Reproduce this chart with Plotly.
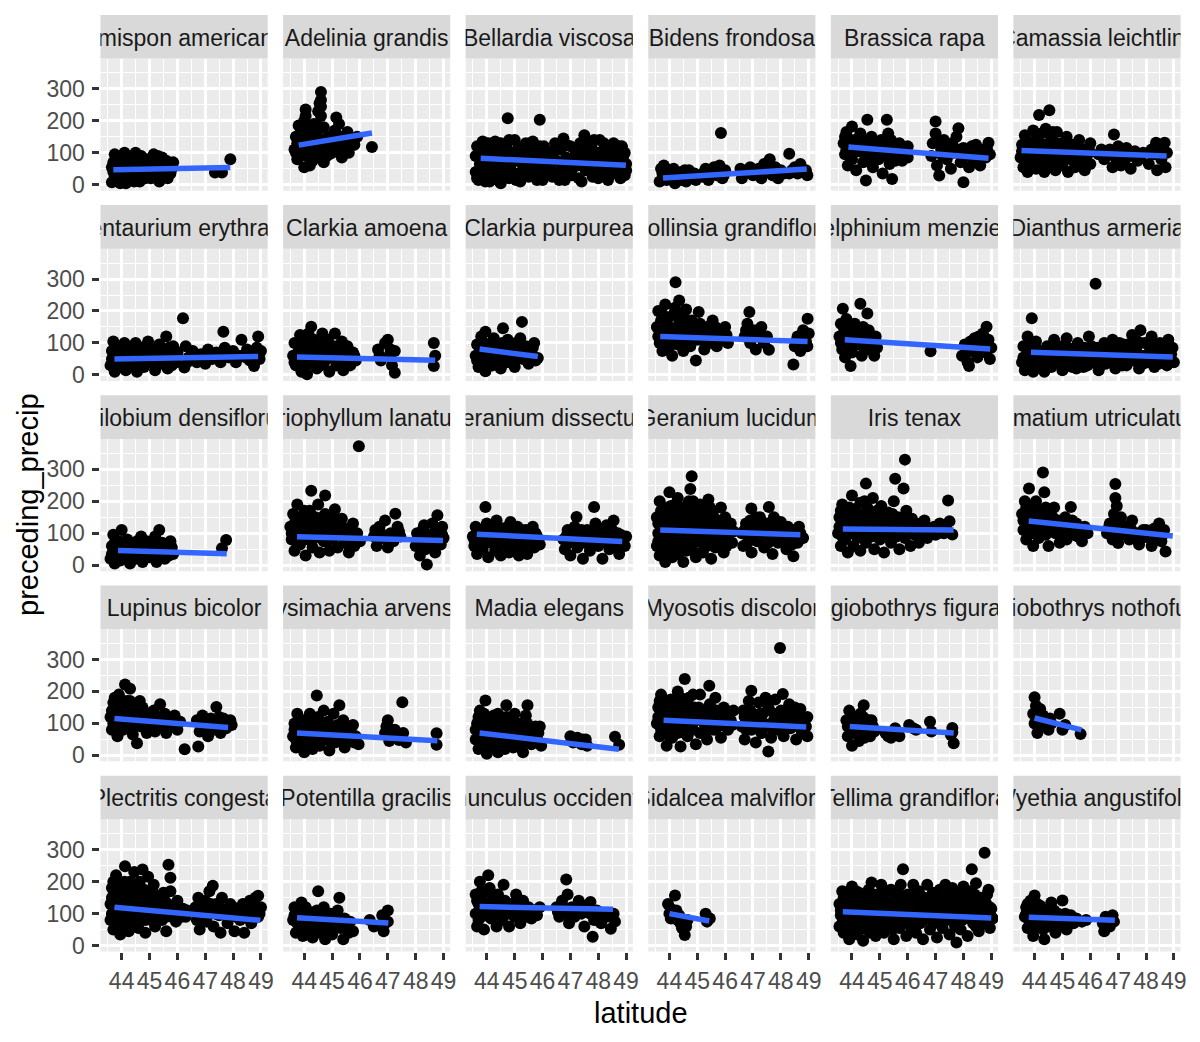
import plotly.graph_objects as go

SPECIES = [
    "Acmispon americanus", "Adelinia grandis", "Bellardia viscosa", "Bidens frondosa",
    "Brassica rapa", "Camassia leichtlinii", "Centaurium erythraea", "Clarkia amoena",
    "Clarkia purpurea", "Collinsia grandiflora", "Delphinium menziesii", "Dianthus armeria",
    "Epilobium densiflorum", "Eriophyllum lanatum", "Geranium dissectum", "Geranium lucidum",
    "Iris tenax", "Lomatium utriculatum", "Lupinus bicolor", "Lysimachia arvensis",
    "Madia elegans", "Myosotis discolor", "Plagiobothrys figuratus", "Plagiobothrys nothofulvus",
    "Plectritis congesta", "Potentilla gracilis", "Ranunculus occidentalis", "Sidalcea malviflora",
    "Tellima grandiflora", "Wyethia angustifolia",
]

X_TICKS = [44, 45, 46, 47, 48, 49]
Y_TICKS = [0, 100, 200, 300]

# (latitude, preceding_precip) pairs
P01 = [(43.65,8),(43.7,40),(43.7,70),(43.75,95),(43.85,20),(43.85,55),(43.9,85),(43.95,5),(44.0,35),(44.0,65),(44.1,100),(44.1,20),(44.15,50),(44.2,80),
       (44.35,15),(44.4,50),(44.4,85),(44.5,100),(44.55,30),(44.6,65),(44.65,10),(44.7,90),(44.75,45),(44.8,75),(44.85,20),(44.9,55),(44.95,35),
       (45.05,20),(45.1,60),(45.15,95),(45.2,40),(45.25,80),(45.35,10),(45.4,55),(45.45,85),(45.5,30),(45.55,70),(45.6,45),(45.7,60),(45.8,50),(45.85,70),(45.65,20),
       (47.35,38),(47.6,38),(47.9,80),
       (43.75,25),(43.8,75),(43.95,50),(44.05,85),(44.1,60),(43.65,55),(43.9,30),(44.45,35),(44.5,70),(44.6,45),(44.7,20),(44.8,55),(44.9,80),(44.45,10),
       (45.1,35),(45.2,70),(45.3,30),(45.35,60),(45.5,50),(45.6,75),(45.75,35),(45.3,90),(44.15,5),(44.55,90),(45.0,75)]
P02 = [(43.65,110),(43.7,150),(43.75,80),(43.8,185),(43.85,120),(43.9,95),(43.95,160),(44.0,55),(44.0,200),(44.05,235),(44.05,130),(44.1,90),(44.15,170),(44.2,110),
       (44.25,145),(44.3,75),(44.35,190),(44.4,120),(44.45,160),(44.5,95),(44.55,255),(44.6,290),(44.6,215),(44.65,140),(44.7,180),(44.7,70),(44.8,110),(44.85,150),
       (44.9,95),(45.0,130),(45.1,170),(45.15,210),(45.2,115),(45.3,150),(45.35,85),(45.45,125),(45.55,165),(45.6,100),(45.7,140),(45.8,125),(45.9,150),(46.43,118),
       (43.75,130),(43.85,160),(43.9,140),(44.0,110),(44.1,150),(44.15,130),(44.25,120),(44.3,170),(44.4,140),(44.45,100),(44.5,130),(44.55,180),(44.65,110),
       (44.75,140),(44.8,90),(44.9,130),(45.0,100),(45.05,150),(45.2,140),(45.25,190),(45.4,110),(45.5,150),(45.65,120),(43.7,100),(44.6,245),(44.5,230),
       (44.6,265),(44.0,175),(44.05,215),(44.3,90),(44.2,60)]
P03 = [(43.6,40),(43.6,90),(43.65,120),(43.7,15),(43.75,65),(43.85,110),(43.9,35),(43.95,80),(44.05,130),(44.1,10),(44.1,55),(44.2,95),(44.3,30),(44.3,135),(44.4,70),
       (44.45,110),(44.5,5),(44.55,45),(44.65,90),(44.7,125),(44.75,208),(44.8,20),(44.85,60),(44.9,100),(45.0,140),(45.0,35),(45.1,75),(45.15,115),(45.2,10),(45.3,50),
       (45.35,95),(45.4,130),(45.5,25),(45.55,70),(45.6,110),(45.7,45),(45.75,90),(45.8,15),(45.9,203),(45.9,120),(45.95,60),(46.05,85),(46.1,30),
       (46.25,60),(46.3,100),(46.35,25),(46.45,130),(46.5,75),(46.6,40),(46.65,110),(46.75,145),(46.8,15),(46.85,85),(46.9,55),(47.0,120),(47.05,30),(47.15,90),
       (47.25,60),(47.35,130),(47.4,10),(47.45,100),(47.5,155),(47.55,45),(47.65,80),(47.75,120),(47.8,25),(47.9,65),(48.0,100),(48.05,140),(48.15,40),(48.2,85),
       (48.3,115),(48.35,15),(48.45,60),(48.5,100),(48.6,35),(48.65,80),(48.75,120),(48.8,55),(48.9,90),(48.95,30),(49.0,65),
       (43.65,20),(43.7,100),(43.8,55),(43.85,135),(43.95,10),(44.0,100),(44.1,75),(44.15,120),(44.25,55),(44.35,90),(44.4,15),(44.5,130),(44.6,65),(44.65,30),
       (44.75,100),(44.8,140),(44.95,80),(45.05,15),(45.1,110),(45.25,70),(45.3,30),(45.45,105),(45.5,55),(45.65,135),(45.7,80),(45.85,40),(45.9,95),(46.0,15),
       (46.05,120),(46.1,55),(46.3,45),(46.4,80),(46.55,110),(46.6,15),(46.7,60),(46.85,125),(46.95,30),(47.0,80),(47.1,55),(47.2,115),(47.3,20),(47.4,75),
       (47.55,125),(47.6,65),(47.7,100),(47.75,40),(47.85,140),(47.95,85),(48.0,20),(48.1,60),(48.2,130),(48.25,100),(48.4,80),(48.5,40),(48.55,130),(48.7,95),
       (48.8,20),(48.85,120),(48.95,100),(49.0,45)]
P04 = [(43.65,10),(43.75,35),(43.8,60),(43.9,15),(44.0,45),(44.1,20),(44.2,5),(44.3,40),(44.4,15),(44.5,30),(44.6,10),(44.7,45),(44.8,20),(44.9,35),(45.2,25),
       (45.3,50),(45.4,15),(45.5,40),(45.6,55),(45.7,30),(45.8,60),(45.85,162),(45.9,20),(46.0,45),(46.55,50),(46.6,20),(46.7,40),(46.9,55),(47.0,30),(47.2,50),
       (47.3,20),(47.4,65),(47.5,40),(47.6,80),(47.7,30),(47.8,55),(47.9,20),(48.0,45),(48.3,97),(48.3,35),(48.5,55),(48.7,65),(48.8,40),(48.95,30),
       (43.7,50),(43.85,30),(44.05,30),(44.15,50),(44.35,25),(44.55,45),(44.75,30),(44.95,15),(45.25,40),(45.45,30),(45.65,45),(45.95,30),(46.65,35),(46.8,45),
       (47.1,45),(47.35,40),(47.55,60),(47.85,40),(48.1,35),(48.4,45),(48.6,35),(48.9,45)]
P05 = [(43.7,130),(43.75,95),(43.8,165),(43.85,60),(43.9,115),(44.0,182),(44.0,80),(44.1,140),(44.15,45),(44.25,105),(44.3,160),(44.4,70),(44.45,125),(44.5,13),
       (44.55,203),(44.6,95),(44.7,150),(44.75,55),(44.85,115),(44.95,80),(45.05,140),(45.1,35),(45.2,100),(45.25,203),(45.3,160),(45.35,65),(45.44,18),(45.5,120),
       (45.6,90),(45.7,130),(45.8,75),(45.9,110),(46.0,85),
       (46.85,90),(46.9,130),(47.0,198),(47.0,160),(47.05,60),(47.13,29),(47.2,110),(47.3,140),(47.4,80),(47.5,120),(47.55,50),(47.65,100),(47.75,150),(47.82,177),
       (47.9,70),(48.0,8),(48.0,115),(48.1,90),(48.2,55),(48.3,120),(48.4,75),(48.5,100),(48.6,60),(48.7,110),(48.8,85),(48.9,131),(48.95,95),
       (43.75,150),(43.8,110),(43.95,140),(44.05,105),(44.2,125),(44.35,140),(44.4,100),(44.6,125),(44.65,75),(44.8,135),(44.9,100),(45.0,115),(45.15,125),
       (45.25,85),(45.4,140),(45.45,100),(45.55,75),(45.65,110),(45.85,95),(46.0,120),(47.1,135),(47.25,90),(47.45,100),(47.6,130),(47.9,110),(48.15,110),
       (48.25,90),(48.45,125),(48.65,90),(48.85,110)]
P06 = [(43.5,85),(43.55,125),(43.6,55),(43.65,155),(43.7,100),(43.75,40),(43.8,135),(43.85,75),(43.95,170),(44.0,110),(44.05,50),(44.1,145),(44.16,218),(44.2,85),
       (44.3,125),(44.35,40),(44.4,175),(44.45,100),(44.53,233),(44.55,65),(44.6,145),(44.7,115),(44.75,45),(44.8,165),(44.85,85),(44.95,130),(45.0,60),(45.1,105),
       (45.15,150),(45.2,40),(45.3,80),(45.35,125),(45.45,55),(45.5,100),(45.6,140),(45.65,70),(45.75,110),(45.8,45),(45.9,95),(46.0,130),(46.0,65),
       (46.3,95),(46.5,80),(46.7,110),(46.8,55),(46.85,157),(46.9,85),(47.0,120),(47.1,60),(47.2,95),(47.3,115),(47.45,50),(47.5,90),(47.7,75),(47.9,100),
       (48.1,65),(48.3,95),(48.36,131),(48.4,45),(48.55,80),(48.67,131),(48.7,55),(48.75,100),
       (43.55,105),(43.65,70),(43.7,120),(43.8,95),(43.9,115),(43.95,60),(44.05,130),(44.15,95),(44.25,160),(44.3,70),(44.4,125),(44.5,85),(44.6,100),(44.65,165),
       (44.75,130),(44.85,105),(44.9,60),(45.05,130),(45.15,85),(45.25,115),(45.4,95),(45.55,120),(45.7,90),(45.85,75),(45.95,110),(46.4,110),(46.6,95),
       (46.95,105),(47.25,80),(47.6,105),(47.8,85),(48.2,110),(48.5,100),(48.6,115)]
P07 = [(43.6,30),(43.65,75),(43.7,105),(43.75,10),(43.8,50),(43.9,85),(43.95,25),(44.0,60),(44.1,100),(44.15,15),(44.2,45),(44.3,80),(44.35,30),(44.45,65),
       (44.5,100),(44.55,10),(44.65,45),(44.7,85),(44.8,25),(44.9,65),(44.95,105),(45.05,40),(45.1,80),(45.2,15),(45.25,55),(45.35,95),(45.45,35),(45.5,70),
       (45.6,120),(45.65,20),(45.75,55),(45.85,90),(45.95,40),(46.0,70),
       (46.2,177),(46.25,23),(46.3,90),(46.4,55),(46.55,75),(46.7,40),(46.85,65),(47.0,35),(47.1,80),(47.25,50),(47.4,70),(47.55,40),(47.65,135),(47.7,85),
       (47.85,55),(48.0,75),(48.1,40),(48.3,110),(48.35,60),(48.5,80),(48.6,45),(48.75,28),(48.8,70),(48.9,120),(48.95,50),
       (43.65,50),(43.75,85),(43.85,35),(43.9,60),(44.05,40),(44.1,80),(44.25,60),(44.4,45),(44.6,75),(44.75,60),(44.85,90),(45.0,55),(45.15,70),(45.3,40),
       (45.4,75),(45.55,50),(45.7,85),(45.8,30),(45.9,60),(46.35,40),(46.5,60),(46.65,55),(46.95,55),(47.2,65),(47.5,60),(47.8,65),(48.2,60),(48.45,55),
       (48.7,55),(48.85,85),(49.0,75)]
P08 = [(43.6,60),(43.65,100),(43.7,30),(43.8,75),(43.85,125),(43.9,10),(43.95,50),(44.05,90),(44.1,2),(44.15,130),(44.2,35),(44.25,151),(44.3,70),(44.35,110),
       (44.45,20),(44.5,55),(44.6,95),(44.65,130),(44.7,35),(44.8,75),(44.85,110),(44.9,10),(45.0,55),(45.05,90),(45.1,130),(45.15,30),(45.25,70),(45.35,105),
       (45.4,15),(45.5,50),(45.55,90),(45.65,30),(45.75,70),(45.85,45),
       (46.65,80),(46.75,45),(46.9,100),(47.0,110),(47.05,60),(47.15,30),(47.25,7),(47.25,75),(48.65,100),(48.65,28),(48.7,60),
       (43.65,40),(43.75,55),(43.8,100),(43.95,75),(44.05,30),(44.1,110),(44.25,60),(44.3,95),(44.4,45),(44.55,75),(44.6,30),(44.75,100),(44.8,50),(44.95,75),
       (45.1,60),(45.2,90),(45.3,45),(45.45,75),(45.6,60),(45.7,45),(45.8,60),(46.7,60),(47.1,80)]
P09 = [(43.6,60),(43.65,95),(43.7,25),(43.8,120),(43.85,70),(43.95,135),(43.95,12),(44.0,45),(44.1,90),(44.2,30),(44.25,115),(44.35,60),(44.45,95),(44.5,20),
       (44.58,146),(44.6,75),(44.7,40),(44.75,110),(44.85,60),(44.95,90),(45.0,25),(45.1,75),(45.2,115),(45.26,166),(45.3,50),(45.4,90),(45.5,35),(45.6,70),
       (45.7,100),(45.75,45),(45.83,53),
       (43.65,45),(43.75,80),(43.9,100),(44.05,70),(44.15,55),(44.3,80),(44.4,40),(44.55,100),(44.65,55),(44.8,80),(44.9,40),(45.05,100),(45.15,55),(45.35,70),
       (45.55,55),(45.65,85),(43.85,35)]
P10 = [(43.55,150),(43.6,200),(43.65,100),(43.7,170),(43.75,75),(43.8,130),(43.85,220),(43.9,90),(43.95,155),(44.05,120),(44.1,60),(44.15,190),(44.22,290),
       (44.25,140),(44.3,95),(44.35,233),(44.4,170),(44.45,115),(44.5,75),(44.55,150),(44.6,205),(44.7,125),(44.75,90),(44.8,170),(44.9,140),(44.95,45),(45.0,110),
       (45.05,197),(45.1,160),(45.2,130),(45.25,80),(45.35,150),(45.45,110),(45.55,170),(45.6,130),(45.7,90),(45.8,140),(45.9,110),(46.0,150),(46.1,100),
       (46.7,120),(46.8,160),(46.87,197),(46.9,100),(47.0,140),(47.1,80),(47.2,120),(47.3,150),(47.4,100),(47.5,120),(47.57,79),
       (48.45,33),(48.5,90),(48.6,120),(48.7,75),(48.8,140),(48.9,105),(48.96,176),(49.0,130),
       (43.6,120),(43.7,140),(43.75,190),(43.85,110),(43.95,180),(44.0,90),(44.1,145),(44.2,210),(44.2,115),(44.35,170),(44.4,130),(44.5,190),(44.6,100),
       (44.65,155),(44.75,130),(44.85,115),(44.9,160),(45.0,135),(45.15,110),(45.3,120),(45.4,140),(45.5,100),(45.65,150),(45.85,120),(46.05,125),(46.75,140),
       (46.95,120),(47.15,140),(47.35,110),(48.55,105),(48.75,110),(48.95,90)]
P11 = [(43.55,120),(43.6,160),(43.65,80),(43.67,207),(43.7,130),(43.75,55),(43.8,175),(43.85,100),(43.9,145),(43.95,28),(44.0,70),(44.05,120),(44.1,160),
       (44.2,95),(44.3,223),(44.3,135),(44.35,60),(44.45,110),(44.55,192),(44.55,80),(44.6,140),(44.7,100),(44.8,60),(44.85,120),(44.9,85),(46.82,74),
       (47.95,60),(48.05,95),(48.15,40),(48.2,28),(48.3,75),(48.4,115),(48.5,55),(48.6,90),(48.7,130),(48.8,70),(48.83,151),(48.9,110),(48.95,50),(49.0,85),
       (43.6,100),(43.7,150),(43.75,110),(43.85,140),(43.9,120),(44.0,95),(44.05,145),(44.15,125),(44.25,110),(44.4,90),(44.4,150),(44.5,120),(44.65,120),
       (44.75,80),(48.1,70),(48.25,105),(48.45,80),(48.55,120),(48.75,100),(48.85,90)]
P12 = [(43.55,40),(43.6,90),(43.65,15),(43.7,60),(43.75,120),(43.8,35),(43.85,80),(43.9,177),(43.95,10),(44.0,55),(44.05,105),(44.1,30),(44.2,75),(44.3,45),
       (44.35,10),(44.45,90),(44.5,60),(44.6,25),(44.7,110),(44.75,70),(44.85,40),(44.9,90),(45.0,15),(45.05,60),(45.15,115),(45.25,35),(45.3,80),(45.4,55),
       (45.5,20),(45.55,100),(45.6,65),(45.7,40),(45.8,85),(45.9,30),(45.95,120),(46.0,60),(46.1,40),(46.19,285),(46.25,85),(46.3,15),(46.4,60),(46.5,100),
       (46.55,35),(46.65,70),(46.75,45),(46.8,110),(46.9,20),(47.0,75),(47.1,50),(47.2,95),(47.3,30),(47.4,70),(47.5,125),(47.55,45),(47.65,85),(47.75,20),
       (47.8,140),(47.85,60),(47.95,100),(48.05,40),(48.15,80),(48.2,120),(48.3,25),(48.4,60),(48.5,100),(48.55,45),(48.65,75),(48.75,30),(48.8,110),
       (48.85,55),(48.95,85),(49.0,40),
       (43.6,55),(43.7,30),(43.8,100),(43.9,45),(44.0,80),(44.15,55),(44.25,20),(44.4,65),(44.55,45),(44.65,80),(44.8,55),(44.95,70),(45.1,40),(45.2,85),
       (45.35,25),(45.45,70),(45.65,50),(45.75,25),(45.85,60),(46.05,90),(46.2,50),(46.35,70),(46.45,35),(46.6,55),(46.7,85),(46.85,55),(46.95,40),(47.05,100),
       (47.15,30),(47.25,60),(47.35,95),(47.45,45),(47.6,65),(47.7,105),(47.9,35),(48.0,60),(48.1,100),(48.25,55),(48.35,85),(48.45,35),(48.6,60),(48.7,95),
       (48.9,65)]
P13 = [(43.6,20),(43.65,60),(43.7,95),(43.75,5),(43.8,40),(43.9,75),(43.95,15),(44.0,110),(44.05,50),(44.15,25),(44.2,80),(44.3,5),(44.35,45),(44.45,70),
       (44.5,20),(44.6,55),(44.7,90),(44.75,10),(44.85,40),(44.9,75),(45.0,25),(45.1,60),(45.2,90),(45.25,10),(45.35,110),(45.35,40),(45.45,70),(45.55,20),
       (45.65,50),(45.75,75),(45.85,35),(47.6,53),(47.75,79),
       (43.65,35),(43.75,70),(43.85,20),(43.9,55),(44.1,35),(44.25,60),(44.4,30),(44.55,75),(44.65,35),(44.8,60),(44.95,50),(45.05,40),(45.15,75),(45.3,55),
       (45.4,25),(45.5,50),(45.7,30),(45.8,55)]
P14 = [(43.5,120),(43.55,80),(43.6,160),(43.65,45),(43.7,100),(43.75,190),(43.8,135),(43.85,65),(43.95,105),(44.0,170),(44.05,30),(44.1,140),(44.15,80),
       (44.25,233),(44.25,115),(44.3,55),(44.4,150),(44.45,95),(44.5,190),(44.55,40),(44.6,125),(44.7,75),(44.75,218),(44.75,160),(44.85,105),(44.9,45),
       (44.95,140),(45.05,85),(45.1,175),(45.15,120),(45.2,55),(45.3,100),(45.35,145),(45.45,70),(45.5,115),(45.6,40),(45.65,90),(45.75,130),(45.8,60),
       (45.9,100),(45.96,372),(46.0,75),
       (46.5,90),(46.6,60),(46.7,120),(46.8,85),(46.9,140),(47.0,55),(47.1,100),(47.2,75),(47.27,161),(47.35,120),(47.45,90),
       (48.0,60),(48.05,100),(48.15,30),(48.2,80),(48.3,125),(48.35,50),(48.4,2),(48.45,95),(48.55,70),(48.6,130),(48.7,40),(48.78,156),(48.8,100),
       (48.9,65),(48.95,120),(49.0,85),
       (43.55,100),(43.65,130),(43.7,75),(43.8,110),(43.9,150),(43.95,85),(44.05,120),(44.15,100),(44.2,170),(44.3,135),(44.35,85),(44.45,120),(44.55,100),
       (44.65,150),(44.7,110),(44.8,130),(44.85,75),(45.0,110),(45.05,150),(45.2,95),(45.25,130),(45.4,85),(45.55,95),(45.7,110),(45.85,80),(46.55,110),
       (46.75,100),(47.05,80),(47.4,105),(48.1,80),(48.25,110),(48.5,80),(48.65,100),(48.85,80),(48.95,95)]
P15 = [(43.5,90),(43.55,60),(43.6,120),(43.65,35),(43.7,80),(43.8,110),(43.85,50),(43.95,182),(43.95,90),(44.0,130),(44.05,25),(44.15,70),(44.2,110),
       (44.3,45),(44.35,140),(44.4,85),(44.5,30),(44.55,115),(44.6,65),(44.7,100),(44.8,40),(44.85,135),(44.9,80),(45.0,55),(45.1,120),(45.15,30),(45.2,90),
       (45.3,60),(45.4,110),(45.45,35),(45.55,80),(45.65,120),(45.7,55),(45.8,90),(45.9,65),
       (46.75,80),(46.8,50),(46.9,110),(47.0,30),(47.05,75),(47.15,120),(47.22,151),(47.25,55),(47.35,95),(47.45,20),(47.5,70),(47.6,110),(47.7,45),
       (47.8,85),(47.85,182),(47.9,130),(48.0,60),(48.1,100),(48.15,20),(48.2,75),(48.3,125),(48.4,50),(48.45,90),(48.55,140),(48.6,65),(48.7,100),
       (48.75,35),(48.85,75),(48.95,60),(49.0,90),
       (43.55,80),(43.65,105),(43.75,60),(43.9,70),(44.0,105),(44.1,90),(44.25,90),(44.45,65),(44.5,95),(44.65,80),(44.75,120),(44.95,95),(45.05,75),
       (45.25,110),(45.35,80),(45.5,100),(45.6,70),(45.75,100),(45.85,80),(46.85,90),(46.95,70),(47.1,95),(47.3,75),(47.4,110),(47.55,90),(47.65,70),
       (47.75,100),(47.95,80),(48.05,115),(48.25,95),(48.35,70),(48.5,110),(48.65,85),(48.8,95),(48.9,75)]
P16 = [(43.55,60),(43.55,150),(43.6,100),(43.65,200),(43.65,30),(43.7,130),(43.75,75),(43.8,170),(43.85,10),(43.85,110),(43.9,50),(43.95,145),(44.0,228),
       (44.0,85),(44.05,185),(44.1,25),(44.1,120),(44.15,60),(44.2,160),(44.25,95),(44.3,210),(44.3,35),(44.35,135),(44.4,70),(44.45,180),(44.5,110),
       (44.5,10),(44.55,150),(44.6,45),(44.65,90),(44.7,200),(44.75,238),(44.75,130),(44.8,278),(44.8,60),(44.85,170),(44.9,105),(44.95,25),(45.0,145),
       (45.05,80),(45.1,190),(45.15,120),(45.2,40),(45.25,160),(45.3,95),(45.35,60),(45.4,205),(45.45,130),(45.5,20),(45.55,170),(45.6,100),(45.65,55),
       (45.7,140),(45.8,80),(45.85,180),(45.9,115),(45.95,40),(46.0,150),(46.1,90),(46.15,125),(46.25,70),(46.3,105),
       (46.6,100),(46.65,60),(46.75,130),(46.85,85),(46.94,177),(46.95,40),(47.05,120),(47.15,75),(47.25,150),(47.3,100),(47.4,55),(47.5,130),(47.57,182),
       (47.6,90),(47.7,35),(47.75,150),(47.8,110),(47.9,70),(48.0,135),(48.1,95),(48.2,50),(48.25,120),(48.35,85),(48.45,28),(48.5,110),(48.6,70),
       (48.7,100),(48.8,85),
       (43.6,130),(43.6,75),(43.7,170),(43.75,110),(43.8,40),(43.9,90),(43.95,180),(44.0,55),(44.05,140),(44.15,95),(44.2,190),(44.25,130),(44.35,100),
       (44.4,160),(44.45,50),(44.55,120),(44.6,180),(44.65,70),(44.7,140),(44.8,110),(44.85,200),(44.9,40),(44.95,160),(45.0,90),(45.1,130),(45.15,70),
       (45.2,170),(45.25,110),(45.35,140),(45.4,80),(45.45,180),(45.55,120),(45.6,150),(45.7,100),(45.75,60),(45.8,130),(45.9,90),(46.0,120),(46.05,60),
       (46.2,130),(46.7,110),(46.8,70),(46.9,140),(47.0,100),(47.1,150),(47.2,90),(47.35,130),(47.45,100),(47.55,70),(47.65,130),(47.85,90),(47.95,110),
       (48.05,80),(48.15,120),(48.3,100),(48.4,65),(48.55,90),(48.65,120),(48.75,85)]
P17 = [(43.5,100),(43.55,150),(43.6,60),(43.65,190),(43.7,120),(43.75,80),(43.8,165),(43.85,40),(43.9,140),(43.95,100),(44.0,218),(44.05,60),(44.1,175),
       (44.15,125),(44.2,85),(44.3,195),(44.3,45),(44.35,150),(44.4,105),(44.5,255),(44.5,70),(44.55,180),(44.6,130),(44.7,90),(44.75,210),(44.8,50),
       (44.85,155),(44.9,115),(45.0,80),(45.05,185),(45.1,135),(45.15,40),(45.25,100),(45.3,165),(45.4,70),(45.45,125),(45.5,200),(45.55,270),(45.6,90),
       (45.65,150),(45.7,50),(45.8,120),(45.85,240),(45.9,330),(45.9,85),(45.95,170),(46.05,110),(46.1,60),(46.15,145),(46.25,95),(46.3,130),(46.4,70),
       (46.5,110),(46.6,140),(46.7,85),(46.85,115),(47.0,95),(47.15,130),(47.3,100),(47.45,202),(47.5,137),(47.6,96),
       (43.55,120),(43.6,170),(43.65,90),(43.7,150),(43.75,110),(43.8,130),(43.85,95),(43.9,180),(44.0,120),(44.05,150),(44.1,100),(44.2,140),(44.25,160),
       (44.35,90),(44.4,130),(44.45,200),(44.5,110),(44.6,160),(44.65,110),(44.7,140),(44.8,120),(44.9,170),(44.95,100),(45.0,140),(45.1,110),(45.2,150),
       (45.3,120),(45.35,90),(45.45,160),(45.55,110),(45.6,130),(45.75,140),(45.8,95),(45.9,125),(46.0,140),(46.2,120),(46.35,110),(46.45,130),(46.55,95),
       (46.75,110),(46.95,120),(47.1,100),(47.25,115),(47.4,110)]
P18 = [(43.55,160),(43.6,110),(43.65,200),(43.7,80),(43.75,140),(43.8,240),(43.85,175),(43.9,100),(43.95,60),(44.0,150),(44.05,200),(44.1,120),(44.15,85),
       (44.25,170),(44.3,290),(44.3,130),(44.35,228),(44.4,95),(44.45,160),(44.5,60),(44.6,125),(44.7,180),(44.75,100),(44.85,140),(44.9,70),(45.0,110),
       (45.1,150),(45.15,80),(45.3,182),(45.3,120),(45.4,95),(45.5,130),(45.6,105),(45.7,75),(45.8,120),(45.9,100),
       (46.6,100),(46.7,130),(46.8,80),(46.85,160),(46.9,254),(46.9,210),(46.95,185),(47.0,120),(47.0,69),(47.1,150),(47.15,95),(47.3,120),(47.4,80),
       (47.5,140),(47.6,100),(47.75,65),(47.9,110),(48.05,90),(48.2,60),(48.35,100),(48.47,130),(48.55,75),(48.65,110),(48.7,43),
       (43.6,140),(43.7,180),(43.75,110),(43.8,160),(43.9,130),(43.95,180),(44.0,120),(44.1,160),(44.2,140),(44.25,110),(44.4,180),(44.5,140),(44.55,110),
       (44.65,150),(44.8,120),(44.95,130),(45.05,100),(45.2,120),(45.35,140),(45.45,110),(45.55,90),(46.65,115),(46.75,95),(46.85,130),(46.95,145),
       (47.05,100),(47.2,120),(47.35,95),(47.45,115),(47.55,85),(47.7,100),(47.85,85),(48.0,110),(48.15,85),(48.3,115),(48.4,85),(48.6,95)]
P19 = [(43.6,120),(43.65,80),(43.7,165),(43.75,100),(43.8,140),(43.85,60),(43.9,190),(43.95,115),(44.0,150),(44.05,80),(44.12,222),(44.15,130),(44.2,170),
       (44.25,95),(44.3,208),(44.35,140),(44.4,65),(44.45,110),(44.5,160),(44.55,38),(44.6,125),(44.7,90),(44.75,150),(44.8,110),(44.9,70),(44.95,130),
       (45.05,100),(45.15,140),(45.2,75),(45.3,115),(45.38,160),(45.45,95),(45.55,130),(45.6,70),(45.7,110),(45.8,90),(45.9,125),(46.0,80),(46.1,105),
       (46.26,19),
       (46.7,110),(46.75,28),(46.8,75),(46.9,125),(47.0,90),(47.1,60),(47.2,115),(47.3,80),(47.4,151),(47.45,100),(47.55,70),(47.65,115),(47.75,85),
       (47.85,100),(47.95,95),
       (43.65,140),(43.7,100),(43.75,180),(43.8,120),(43.9,90),(43.9,150),(44.0,120),(44.05,170),(44.1,100),(44.2,140),(44.25,120),(44.3,170),(44.4,130),
       (44.45,90),(44.55,140),(44.6,100),(44.65,170),(44.7,120),(44.85,130),(44.9,100),(45.0,115),(45.1,90),(45.25,100),(45.4,120),(45.5,90),(45.65,100),
       (45.85,110),(46.85,100),(47.05,110),(47.25,95),(47.35,110),(47.5,120),(47.7,95),(47.9,110)]
P20 = [(43.6,60),(43.65,100),(43.7,25),(43.75,130),(43.8,70),(43.9,40),(43.95,110),(44.0,10),(44.05,80),(44.15,50),(44.2,130),(44.3,20),(44.35,95),
       (44.45,187),(44.45,60),(44.5,120),(44.55,30),(44.65,85),(44.7,140),(44.75,50),(44.85,105),(44.9,15),(45.0,70),(45.05,130),(45.1,40),(45.2,95),
       (45.26,157),(45.3,60),(45.4,110),(45.45,25),(45.55,75),(45.65,45),(45.75,95),(45.85,60),(45.95,35),
       (46.9,70),(47.0,110),(47.05,45),(47.15,80),(47.3,60),(47.4,48),(47.52,166),(47.55,70),(47.65,40),(48.75,69),(48.75,33),
       (43.65,80),(43.7,50),(43.8,100),(43.85,40),(43.9,85),(44.0,60),(44.1,110),(44.1,35),(44.25,75),(44.3,100),(44.4,40),(44.55,80),(44.6,105),(44.7,60),
       (44.8,85),(44.95,45),(45.1,90),(45.15,65),(45.3,85),(45.35,45),(45.5,60),(45.6,90),(45.7,65),(45.8,40),(46.95,90),(47.1,60),(47.25,80),(47.45,65)]
P21 = [(43.6,50),(43.65,100),(43.7,20),(43.75,140),(43.8,70),(43.85,35),(43.95,172),(43.95,110),(44.0,5),(44.05,60),(44.1,90),(44.2,30),(44.25,125),
       (44.3,65),(44.4,10),(44.45,100),(44.5,45),(44.6,80),(44.65,20),(44.7,157),(44.7,120),(44.8,55),(44.85,90),(44.95,25),(45.0,130),(45.05,70),
       (45.15,40),(45.2,100),(45.3,10),(45.35,60),(45.4,125),(45.46,157),(45.5,85),(45.6,35),(45.7,70),(45.8,50),(45.9,90),(45.95,30),
       (47.0,60),(47.1,40),(47.25,55),(47.4,35),(47.55,50),(47.6,30),(48.6,58),(48.75,33),
       (43.6,80),(43.7,120),(43.75,40),(43.8,100),(43.85,65),(43.9,130),(44.0,85),(44.05,35),(44.15,110),(44.15,60),(44.3,95),(44.35,40),(44.4,130),
       (44.55,60),(44.6,105),(44.75,80),(44.8,30),(44.9,110),(45.0,50),(45.1,90),(45.25,75),(45.3,40),(45.45,100),(45.55,60),(45.65,45),(45.75,90),
       (45.85,70),(47.05,45),(47.3,45),(47.45,50)]
P22 = [(43.55,100),(43.6,150),(43.65,60),(43.7,190),(43.75,120),(43.8,80),(43.85,160),(43.9,30),(43.95,130),(44.0,95),(44.05,175),(44.1,55),(44.15,140),
       (44.2,100),(44.3,200),(44.3,70),(44.35,130),(44.4,28),(44.45,165),(44.5,95),(44.55,239),(44.6,130),(44.65,60),(44.7,180),(44.75,110),(44.85,80),
       (44.9,150),(44.95,35),(45.0,120),(45.1,190),(45.1,70),(45.2,140),(45.25,100),(45.35,50),(45.43,218),(45.45,160),(45.5,120),(45.6,80),(45.65,180),
       (45.7,140),(45.8,100),(45.85,55),(45.95,150),(46.0,110),(46.1,80),(46.15,125),(46.25,95),(46.3,140),
       (46.6,90),(46.65,140),(46.7,50),(46.8,110),(46.85,170),(46.94,202),(46.95,80),(47.0,130),(47.1,40),(47.15,100),(47.2,165),(47.3,70),(47.35,130),
       (47.45,180),(47.5,95),(47.55,12),(47.6,140),(47.65,55),(47.75,110),(47.8,175),(47.9,80),(47.97,336),(48.0,140),(48.07,192),(48.1,60),(48.2,115),
       (48.3,160),(48.35,85),(48.45,130),(48.55,50),(48.6,100),(48.7,145),(48.75,75),(48.85,115),(48.9,90),(48.95,60),
       (43.6,120),(43.65,170),(43.7,80),(43.75,150),(43.85,130),(43.9,100),(43.95,170),(44.0,60),(44.1,120),(44.15,90),(44.2,160),(44.25,130),(44.35,100),
       (44.4,180),(44.5,140),(44.55,70),(44.6,110),(44.65,160),(44.75,140),(44.8,90),(44.85,190),(44.95,110),(45.05,150),(45.15,110),(45.3,130),(45.4,80),
       (45.55,140),(45.6,110),(45.75,90),(45.9,120),(46.05,140),(46.2,110),(46.7,120),(46.75,80),(46.9,140),(47.05,100),(47.25,130),(47.4,100),(47.55,150),
       (47.7,80),(47.85,130),(47.95,100),(48.15,140),(48.25,90),(48.4,100),(48.5,150),(48.65,120),(48.8,100),(48.95,120)]
P23 = [(43.8,110),(43.85,60),(43.9,140),(43.95,85),(44.0,30),(44.05,120),(44.1,70),(44.2,100),(44.25,45),(44.3,130),(44.35,80),(44.42,157),(44.45,55),
       (44.55,95),(44.65,60),(44.7,110),(44.8,75),(45.2,70),(45.4,55),(45.55,85),(45.7,60),(46.05,95),(46.3,80),(46.8,105),(46.85,75),(47.55,64),(47.6,86),
       (47.65,38),
       (43.85,90),(43.95,120),(44.05,90),(44.15,110),(44.3,95),(44.4,120),(44.5,75),(44.6,110),(44.75,90),(45.3,60),(45.6,75),(46.2,85),(47.6,72)]
P24 = [(43.95,130),(44.0,182),(44.0,100),(44.05,155),(44.1,70),(44.15,120),(44.2,145),(44.25,95),(44.35,110),(44.5,80),(44.6,100),(44.9,130),(45.0,80),
       (45.1,95),(45.65,67),
       (44.05,125),(44.1,110),(44.2,100),(44.3,125),(44.45,95),(44.55,115)]
P25 = [(43.6,130),(43.6,80),(43.65,180),(43.7,50),(43.75,110),(43.8,220),(43.85,150),(43.9,90),(43.95,35),(44.0,190),(44.0,130),(44.05,70),(44.12,248),
       (44.15,160),(44.2,105),(44.25,45),(44.3,200),(44.35,135),(44.4,80),(44.45,230),(44.5,170),(44.55,110),(44.6,55),(44.65,200),(44.7,140),(44.75,238),
       (44.75,90),(44.8,175),(44.85,40),(44.9,120),(44.95,215),(45.0,160),(45.05,80),(45.1,130),(45.15,190),(45.2,60),(45.25,100),(45.3,150),(45.4,120),
       (45.45,80),(45.5,165),(45.55,100),(45.6,45),(45.65,130),(45.68,253),(45.75,212),(45.75,170),(45.8,90),(45.9,120),(45.95,75),(46.0,140),(46.1,100),
       (46.2,115),(46.3,90),(46.35,110),
       (46.65,120),(46.7,80),(46.75,150),(46.8,50),(46.9,110),(47.0,140),(47.05,75),(47.15,170),(47.2,100),(47.27,187),(47.3,60),(47.4,130),(47.5,95),
       (47.55,40),(47.6,150),(47.7,110),(47.8,70),(47.9,130),(48.0,95),(48.05,45),(48.15,115),(48.25,80),(48.35,130),(48.4,40),(48.5,100),(48.6,140),
       (48.65,70),(48.75,110),(48.8,150),(48.9,156),(48.9,90),(49.0,120),
       (43.65,100),(43.65,150),(43.7,200),(43.75,80),(43.8,170),(43.85,120),(43.9,60),(43.95,150),(44.05,100),(44.1,200),(44.15,130),(44.2,80),(44.25,170),
       (44.3,110),(44.35,60),(44.4,150),(44.45,190),(44.5,120),(44.55,80),(44.6,140),(44.65,170),(44.7,100),(44.8,130),(44.85,80),(44.9,160),(45.0,110),
       (45.05,130),(45.1,170),(45.2,120),(45.25,150),(45.35,90),(45.4,140),(45.5,110),(45.55,140),(45.6,90),(45.7,120),(45.85,100),(46.0,110),(46.15,90),
       (46.7,120),(46.8,140),(46.85,90),(46.95,120),(47.1,110),(47.2,130),(47.35,100),(47.45,110),(47.6,115),(47.75,95),(47.85,105),(48.0,120),(48.1,90),
       (48.3,105),(48.45,110),(48.55,85),(48.7,95),(48.85,120),(48.95,100)]
P26 = [(43.6,80),(43.65,120),(43.7,40),(43.8,100),(43.85,60),(43.9,135),(43.95,30),(44.0,85),(44.1,110),(44.15,50),(44.25,90),(44.3,25),(44.4,70),
       (44.45,110),(44.5,170),(44.55,40),(44.65,85),(44.7,120),(44.75,20),(44.85,65),(44.95,100),(45.0,35),(45.1,80),(45.2,110),(45.26,150),(45.3,55),
       (45.4,20),(45.45,85),(45.55,55),(45.65,75),(45.75,45),
       (46.35,80),(46.5,60),(46.8,95),(46.85,45),(47.0,110),(47.0,75),
       (43.65,95),(43.75,70),(43.8,50),(43.9,100),(44.0,60),(44.05,120),(44.2,75),(44.3,100),(44.35,55),(44.5,90),(44.6,65),(44.8,95),(44.9,50),(45.05,90),
       (45.15,60),(45.35,75),(45.5,70),(45.6,40),(46.9,70)]
P27 = [(43.6,100),(43.6,160),(43.65,60),(43.7,130),(43.75,200),(43.8,90),(43.85,160),(43.9,50),(44.0,120),(44.05,220),(44.1,180),(44.15,85),(44.2,140),
       (44.3,100),(44.35,60),(44.4,160),(44.45,120),(44.55,80),(44.6,190),(44.65,140),(44.75,100),(44.8,60),(44.9,130),(45.0,90),(45.05,160),(45.15,115),
       (45.2,70),(45.3,140),(45.4,100),(45.5,120),(45.6,85),(45.7,110),(45.8,95),(45.9,120),
       (46.5,120),(46.6,90),(46.7,140),(46.8,100),(46.85,207),(46.9,160),(46.95,70),(47.05,120),(47.15,90),(47.3,140),(47.4,100),(47.5,60),(47.6,110),
       (47.72,136),(47.8,28),(47.85,80),(47.95,110),(48.1,70),(48.3,90),(48.45,53),(48.55,100),(48.6,75),
       (43.65,140),(43.7,80),(43.75,110),(43.8,170),(43.9,130),(43.95,95),(44.0,170),(44.1,130),(44.2,100),(44.25,160),(44.3,130),(44.4,100),(44.5,140),
       (44.55,110),(44.7,120),(44.85,100),(44.95,130),(45.1,100),(45.25,110),(45.35,125),(45.45,90),(45.65,105),(46.55,105),(46.75,120),(47.0,100),
       (47.2,110),(47.45,125),(47.7,100),(47.9,95),(48.2,100),(48.4,95)]
P28 = [(43.95,130),(44.0,100),(44.05,85),(44.2,157),(44.25,110),(44.35,95),(44.4,70),(44.45,55),(44.55,33),(44.65,80),(45.3,100),(45.35,75),(45.45,85),
       (44.05,115),(44.3,80),(44.6,60)]
P29 = [(43.55,60),(43.55,130),(43.6,95),(43.65,170),(43.7,40),(43.75,120),(43.8,80),(43.85,150),(43.9,20),(43.95,110),(44.0,185),(44.05,60),(44.1,140),
       (44.15,95),(44.2,35),(44.25,165),(44.3,120),(44.35,75),(44.4,15),(44.45,140),(44.5,100),(44.55,50),(44.6,175),(44.65,130),(44.7,197),(44.7,80),
       (44.8,110),(44.85,30),(44.9,160),(44.95,65),(45.0,125),(45.05,190),(45.1,90),(45.15,40),(45.2,145),(45.3,105),(45.35,60),(45.4,175),(45.45,130),
       (45.5,20),(45.55,85),(45.6,150),(45.65,110),(45.7,55),(45.75,190),(45.83,239),(45.85,130),(45.9,80),(45.95,30),(46.0,160),(46.05,105),(46.1,60),
       (46.15,140),(46.2,190),(46.25,90),(46.3,40),(46.35,125),(46.4,170),(46.45,70),(46.5,110),(46.55,20),(46.6,150),(46.65,85),(46.7,190),(46.75,130),
       (46.8,50),(46.85,100),(46.9,165),(46.95,70),(47.0,130),(47.05,25),(47.1,95),(47.15,175),(47.2,140),(47.25,55),(47.3,110),(47.35,190),(47.4,80),
       (47.45,150),(47.5,35),(47.55,120),(47.6,180),(47.65,75),(47.7,135),(47.75,10),(47.8,100),(47.85,160),(47.9,50),(47.95,120),(48.0,185),(48.05,85),
       (48.1,145),(48.15,30),(48.2,110),(48.25,170),(48.3,239),(48.35,70),(48.4,130),(48.45,195),(48.5,95),(48.55,45),(48.6,150),(48.65,110),(48.7,70),
       (48.76,290),(48.8,135),(48.85,90),(48.9,175),(48.95,55),(49.0,115),(49.05,85),
       (43.6,110),(43.65,70),(43.7,150),(43.75,90),(43.8,130),(43.85,55),(43.9,170),(43.95,80),(44.0,140),(44.05,110),(44.1,40),(44.15,170),(44.2,120),
       (44.25,90),(44.3,150),(44.35,55),(44.4,100),(44.5,160),(44.55,120),(44.6,80),(44.65,40),(44.75,150),(44.8,60),(44.9,120),(44.95,100),(45.0,160),
       (45.1,130),(45.2,80),(45.25,120),(45.3,170),(45.4,90),(45.45,50),(45.55,130),(45.6,110),(45.7,160),(45.8,100),(45.9,150),(46.0,90),(46.05,130),
       (46.15,100),(46.25,160),(46.3,120),(46.4,100),(46.5,150),(46.55,80),(46.6,120),(46.7,100),(46.8,150),(46.9,120),(47.0,90),(47.05,160),(47.15,120),
       (47.25,140),(47.3,80),(47.4,120),(47.5,160),(47.6,100),(47.7,60),(47.75,150),(47.85,120),(47.95,80),(48.0,150),(48.1,110),(48.2,140),(48.3,100),
       (48.4,160),(48.45,60),(48.55,120),(48.6,90),(48.7,140),(48.8,110),(48.85,160),(48.95,120),(49.0,90),(48.5,130)]
P30 = [(43.65,90),(43.7,120),(43.75,55),(43.85,140),(43.9,80),(43.95,30),(44.0,157),(44.05,105),(44.15,60),(44.2,125),(44.3,85),(44.35,20),(44.45,110),
       (44.5,60),(44.6,135),(44.65,90),(44.75,40),(44.85,100),(44.9,65),(45.0,141),(45.05,80),(45.15,50),(45.3,95),(45.4,70),(45.5,85),(45.7,75),(45.85,80),
       (46.45,70),(46.5,45),(46.55,90),(46.7,60),(46.8,95),(46.85,75),
       (43.7,100),(43.75,130),(43.8,80),(43.9,115),(44.0,90),(44.05,60),(44.1,130),(44.25,100),(44.3,50),(44.4,80),(44.55,100),(44.7,110),(44.8,70),
       (44.95,90),(45.1,100),(45.2,80),(45.35,80),(46.6,75),(46.75,85)]

# linear-fit lines (start and end)
FIT_LAT_START = [43.7,43.8,43.78,43.77,43.87,43.53,43.74,43.74,43.74,43.67,43.74,43.87,43.87,43.74,43.64,
                 43.67,43.67,43.79,43.74,43.74,43.74,43.79,43.92,44.0,43.74,43.74,43.74,44.0,43.67,43.79]
FIT_LAT_END = [47.9,46.43,48.99,48.93,48.9,48.74,48.9,48.7,45.83,48.96,48.96,48.96,47.77,48.98,48.86,
               48.7,47.65,48.96,47.82,48.78,48.74,48.91,47.65,45.68,48.98,47.02,48.53,45.43,49.0,46.88]
FIT_PRECIP_START = [47,124,83,21,118,107,50,56,81,120,110,71,46,89,97,110,113,138,115,70,70,110,90,117,120,87,122,100,106,89]
FIT_PRECIP_END = [54,162,61,49,83,90,58,46,58,105,81,56,36,77,74,95,110,91,87,46,19,89,70,80,79,71,114,77,86,79]

POINTS = [P01, P02, P03, P04, P05, P06, P07, P08, P09, P10, P11, P12, P13, P14, P15,
          P16, P17, P18, P19, P20, P21, P22, P23, P24, P25, P26, P27, P28, P29, P30]

W, H = 1200, 1042
FONT = "Liberation Sans, Arial, Helvetica, sans-serif"
COL_LEFT0, COL_STEP, PANEL_W = 101.0, 183.5, 168.0
ROW_TOP0, ROW_STEP, STRIP_H, PANEL_H = 15.0, 191.5, 44.0, 133.0
X_RANGE = [43.24, 49.24]
Y_RANGE = [-18.6, 394.4]


def fx(p):
    return p / W


def fy(p):
    return 1 - p / H


def ax_name(kind, n):
    return kind + ("" if n == 1 else str(n))


fig = go.Figure()
layout = {}
shapes = []
ncols, nrows = 6, 5

for i, name in enumerate(SPECIES):
    r, c = divmod(i, ncols)
    x0 = COL_LEFT0 + c * COL_STEP
    x1 = x0 + PANEL_W
    st = ROW_TOP0 + r * ROW_STEP
    sb = st + STRIP_H
    pb = sb + PANEL_H
    n = i + 1
    s = i + 1 + len(SPECIES)
    bottom = (r == nrows - 1)
    left = (c == 0)

    shapes.append(dict(type="rect", xref="paper", yref="paper", x0=fx(x0), x1=fx(x1), y0=fy(pb), y1=fy(sb),
                       fillcolor="#EBEBEB", line=dict(width=0), layer="below"))
    shapes.append(dict(type="rect", xref="paper", yref="paper", x0=fx(x0), x1=fx(x1), y0=fy(sb), y1=fy(st),
                       fillcolor="#D9D9D9", line=dict(width=0), layer="below"))

    layout[ax_name("xaxis", n)] = dict(
        domain=[fx(x0), fx(x1)], range=X_RANGE, anchor=ax_name("y", n),
        tickmode="array", tickvals=X_TICKS, ticktext=[str(v) for v in X_TICKS],
        showgrid=True, gridcolor="white", gridwidth=2.7, zeroline=False, showline=False,
        minor=dict(tickvals=[43.5, 44.5, 45.5, 46.5, 47.5, 48.5], showgrid=True, gridcolor="white", gridwidth=1.35, ticks=""),
        ticks="outside" if bottom else "", ticklen=7, tickwidth=2.7, tickcolor="#333333",
        showticklabels=bottom, tickfont=dict(family=FONT, size=23, color="#4D4D4D"),
        ticklabelstandoff=2, fixedrange=True,
    )
    layout[ax_name("yaxis", n)] = dict(
        domain=[fy(pb), fy(sb)], range=Y_RANGE, anchor=ax_name("x", n),
        tickmode="array", tickvals=Y_TICKS, ticktext=[str(v) for v in Y_TICKS],
        showgrid=True, gridcolor="white", gridwidth=2.7, zeroline=False, showline=False,
        minor=dict(tickvals=[50, 150, 250, 350], showgrid=True, gridcolor="white", gridwidth=1.35, ticks=""),
        ticks="outside" if left else "", ticklen=7, tickwidth=2.7, tickcolor="#333333",
        showticklabels=left, tickfont=dict(family=FONT, size=23, color="#4D4D4D"),
        ticklabelstandoff=3, fixedrange=True,
    )
    layout[ax_name("xaxis", s)] = dict(domain=[fx(x0), fx(x1)], range=[0, 1], anchor=ax_name("y", s),
                                       showgrid=False, zeroline=False, showticklabels=False, ticks="", fixedrange=True)
    layout[ax_name("yaxis", s)] = dict(domain=[fy(sb), fy(st)], range=[0, 1], anchor=ax_name("x", s),
                                       showgrid=False, zeroline=False, showticklabels=False, ticks="", fixedrange=True)

    pts = POINTS[i]
    fig.add_trace(go.Scatter(
        x=[p[0] for p in pts], y=[p[1] for p in pts], mode="markers",
        marker=dict(color="black", size=12, line=dict(width=0)),
        xaxis=ax_name("x", n), yaxis=ax_name("y", n), showlegend=False, hoverinfo="skip"))
    fig.add_trace(go.Scatter(
        x=[FIT_LAT_START[i], FIT_LAT_END[i]], y=[FIT_PRECIP_START[i], FIT_PRECIP_END[i]], mode="lines",
        line=dict(color="#3366FF", width=5.5),
        xaxis=ax_name("x", n), yaxis=ax_name("y", n), showlegend=False, hoverinfo="skip"))
    fig.add_trace(go.Scatter(
        x=[0.5], y=[0.43], mode="text", text=[name], textposition="middle center",
        textfont=dict(family=FONT, size=23, color="#1A1A1A"), cliponaxis=True,
        xaxis=ax_name("x", s), yaxis=ax_name("y", s), showlegend=False, hoverinfo="skip"))

annotations = [
    dict(text="latitude", xref="paper", yref="paper", x=fx(643.75), y=fy(1020), showarrow=False,
         font=dict(family=FONT, size=29, color="black"), xanchor="center", yanchor="middle"),
    dict(text="preceding_precip", xref="paper", yref="paper", x=fx(28), y=fy(508.5), showarrow=False,
         textangle=-90, font=dict(family=FONT, size=29, color="black"), xanchor="center", yanchor="middle"),
]

fig.update_layout(
    width=W, height=H, margin=dict(l=0, r=0, t=0, b=0),
    paper_bgcolor="white", plot_bgcolor="rgba(0,0,0,0)",
    shapes=shapes, annotations=annotations, showlegend=False,
    font=dict(family=FONT),
    **layout,
)

fig.write_html("out.html", config={"displayModeBar": False})
